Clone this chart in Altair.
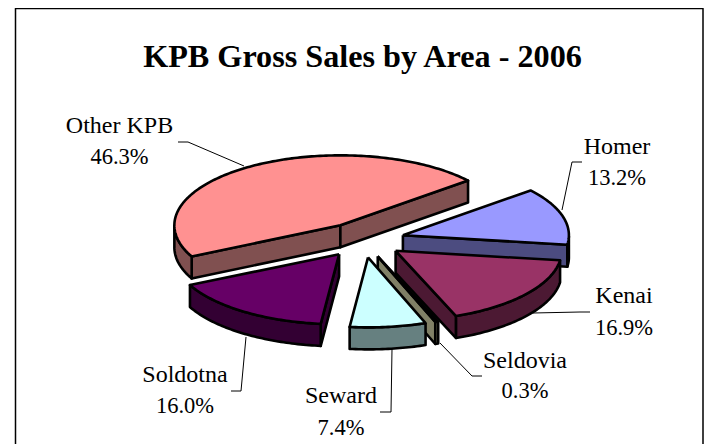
import math
import altair as alt
import pandas as pd

# Chart values
names = ["Other KPB", "Homer", "Kenai", "Seldovia", "Seward", "Soldotna"]
shares = [46.3, 13.2, 16.9, 0.3, 7.4, 16.0]
top_colors = ["#FF9191", "#9999FF", "#993366", "#FFFFCC", "#CCFFFF", "#660066"]
side_colors = ["#805050", "#4C4C80", "#4C1933", "#808066", "#668080", "#330033"]
draw_order = ["Other KPB", "Homer", "Kenai", "Soldotna", "Seldovia", "Seward"]

# Layout: picture coordinates
W, H = 696, 436
CX, CY, RX, RY, DEPTH, EXPLODE = 363, 240, 166, 70, 22, 0.25
START = 206.4
label_xy = {
    "Other KPB": (119.5, 126, 157),
    "Homer": (617, 147, 178),
    "Kenai": (624, 296, 328),
    "Seldovia": (525, 361, 391),
    "Seward": (341, 396, 428),
    "Soldotna": (185, 375, 406),
}
leaders = {
    "Other KPB": [(178, 142), (188, 142), (244, 166)],
    "Homer": [(562, 210), (572, 162), (582, 162)],
    "Kenai": [(533, 313), (580, 312), (590, 312)],
    "Seldovia": [(440, 343), (472, 376), (482, 376)],
    "Seward": [(392, 349), (391, 412), (380, 412)],
    "Soldotna": [(246, 337), (241, 391), (231, 391)],
}

x_scale = alt.Scale(domain=[8, 8 + W], range=[0, W], nice=False, zero=False)
y_scale = alt.Scale(domain=[8, 8 + H], range=[0, H], nice=False, zero=False)


def shape(points, fill=None, width=2.6, color="black"):
    df = pd.DataFrame([{"x": p[0], "y": p[1], "i": i} for i, p in enumerate(points)])
    kw = {"fill": fill} if fill else {}
    return alt.Chart(df).mark_line(
        stroke=color, strokeWidth=width, strokeJoin="round", clip=True, **kw
    ).encode(
        x=alt.X("x:Q", scale=x_scale, axis=None),
        y=alt.Y("y:Q", scale=y_scale, axis=None),
        order="i:Q",
    )


layers = []
# Frame
layers.append(shape([(15.5, 500), (15.5, 8.5), (703, 8.5), (703, 500)], width=1.5))

angles = {}
a = START
for n, s in zip(names, shares):
    angles[n] = (a, a - s * 3.6)
    a -= s * 3.6

for n in draw_order:
    k = names.index(n)
    t1, t2 = angles[n]
    mid = math.radians((t1 + t2) / 2)
    ax = CX + EXPLODE * RX * math.cos(mid)
    ay = CY - EXPLODE * RY * math.sin(mid)

    def pt(deg, drop=0):
        r = math.radians(deg)
        return (ax + RX * math.cos(r), ay - RY * math.sin(r) + drop)

    steps = max(2, int(abs(t1 - t2)))
    arc = [t1 + (t2 - t1) * j / steps for j in range(steps + 1)]

    # radial walls, visible when turned to the viewer
    if math.cos(math.radians(t1)) < 0:
        e = pt(t1)
        layers.append(shape([(ax, ay), e, (e[0], e[1] + DEPTH), (ax, ay + DEPTH), (ax, ay)], side_colors[k]))
    if math.cos(math.radians(t2)) > 0:
        e = pt(t2)
        layers.append(shape([(ax, ay), e, (e[0], e[1] + DEPTH), (ax, ay + DEPTH), (ax, ay)], side_colors[k]))
    # outer wall: the part of the rim on the near half
    front = [d for d in arc if math.sin(math.radians(d)) <= 0]
    if len(front) >= 2:
        top = [pt(d) for d in front]
        bottom = [pt(d, DEPTH) for d in reversed(front)]
        layers.append(shape(top + bottom + [top[0]], side_colors[k]))
    # top face
    face = [(ax, ay)] + [pt(d) for d in arc] + [(ax, ay)]
    layers.append(shape(face, top_colors[k]))

# Leaders
for n in names:
    layers.append(shape(leaders[n], width=1.0))

# Labels
name_rows = []
pct_rows = []
for n, s in zip(names, shares):
    lx, y1, y2 = label_xy[n]
    name_rows.append({"x": lx, "y": y1, "t": n})
    pct_rows.append({"x": lx, "y": y2, "t": f"{s:.1f}%"})


def text(rows, size, weight="normal"):
    return alt.Chart(pd.DataFrame(rows)).mark_text(
        font="Liberation Serif", fontSize=size, fontWeight=weight, color="black",
        align="center", baseline="middle"
    ).encode(
        x=alt.X("x:Q", scale=x_scale, axis=None),
        y=alt.Y("y:Q", scale=y_scale, axis=None),
        text="t:N",
    )


layers.append(text(name_rows, 24))
layers.append(text(pct_rows, 22.5))
layers.append(text([{"x": 362.5, "y": 57, "t": "KPB Gross Sales by Area - 2006"}], 32.2, "bold"))

chart = alt.layer(*layers).properties(
    width=W, height=H, padding=0, autosize=alt.AutoSizeParams(type="none"), background="white"
).configure_view(stroke=None)

chart.save("out.html", embed_options={"renderer": "svg", "actions": False})
